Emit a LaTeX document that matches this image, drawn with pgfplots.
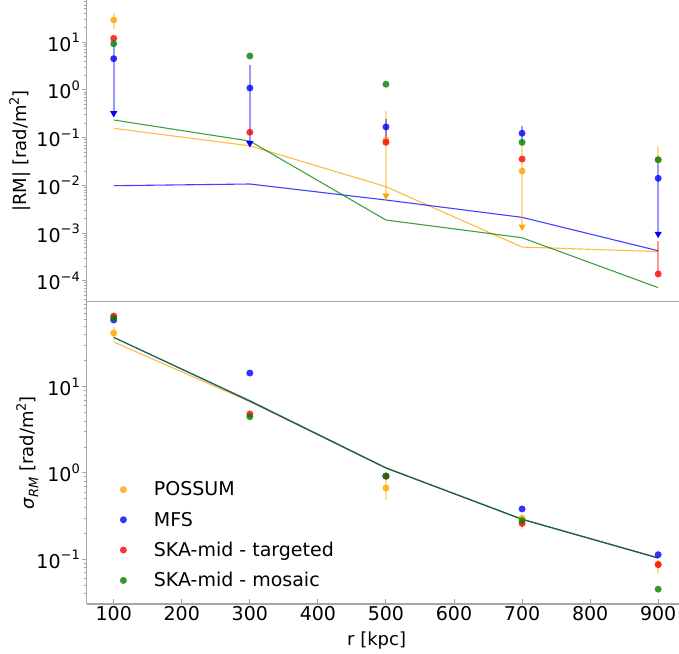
\documentclass[border=0pt]{standalone}
\usepackage{fontspec}
\setmainfont{DejaVu Sans}
\usepackage{pgfplots}
\pgfplotsset{compat=1.18}

\definecolor{cOrange}{HTML}{FFA500}
\definecolor{cBlue}{HTML}{0000FF}
\definecolor{cRed}{HTML}{FF0000}
\definecolor{cGreen}{HTML}{008000}
\definecolor{spine}{HTML}{A6A6A6}

\newcommand{\bigfont}{\fontsize{18}{21}\selectfont}
\newcommand{\tickfont}{\fontsize{19}{22}\selectfont}
\newcommand{\supfont}{\fontsize{13}{15}\selectfont}
\newcommand{\spt}[1]{\raisebox{0.45em}{\supfont #1}}

\pgfplotsset{
  panel/.style={
    scale only axis, width=592.1pt,
    xmin=60, xmax=930,
    axis x line*=bottom, axis y line*=left,
    axis line style={-, spine, line width=1.3pt},
    tick style={spine, line width=1pt},
    major tick length=5pt, minor tick length=3pt,
    ytick align=outside, xtick align=inside,
    tick label style={font=\tickfont},
    label style={font=\bigfont},
    yticklabel style={anchor=east, inner xsep=1.5pt},
  },
  pts/.style={#1, only marks, mark=*, mark size=3.5pt,
    mark options={draw opacity=0, fill=#1, fill opacity=0.8}},
  tri/.style={#1, only marks, mark=triangle*, mark size=4.2pt,
    mark options={rotate=180, draw opacity=0, fill=#1}, forget plot},
  ebar/.style={#1, draw opacity=0.4, line width=2pt, unbounded coords=jump, forget plot},
  fitline/.style={#1, draw opacity=0.75, line width=1.1pt, forget plot},
}

\begin{document}
\begin{tikzpicture}
\path[use as bounding box] (0pt,0pt) rectangle (679pt,653pt);

% upper panel: |RM|
\begin{axis}[ymode=log, log basis y=10, panel, at={(86.5pt,351.3pt)}, anchor=south west, height=301.7pt,
    ymin=3.65e-5, ymax=77, xtick=\empty,
    ytick={1e-4,1e-3,1e-2,1e-1,1,10},
    yticklabels={10\spt{−4},10\spt{−3},10\spt{−2},10\spt{−1},10\spt{0},10\spt{1}},
    minor ytick={4e-5,5e-5,6e-5,7e-5,8e-5,9e-5,
      2e-4,3e-4,4e-4,5e-4,6e-4,7e-4,8e-4,9e-4,
      2e-3,3e-3,4e-3,5e-3,6e-3,7e-3,8e-3,9e-3,
      2e-2,3e-2,4e-2,5e-2,6e-2,7e-2,8e-2,9e-2,
      0.2,0.3,0.4,0.5,0.6,0.7,0.8,0.9,2,3,4,5,6,7,8,9,20,30,40,50,60,70},
    ylabel={|RM| [rad/m\spt{2}]},
    ylabel style={at={(axis description cs:-0.112,0.5)}, anchor=center}]
\addplot[fitline=cOrange] coordinates {(100,0.157) (300,0.0676) (500,0.0094) (700,0.00051) (900,0.00041)};
\addplot[fitline=cBlue] coordinates {(100,0.00986) (300,0.0107) (500,0.00494) (700,0.00214) (900,0.000427)};
\addplot[fitline=cGreen] coordinates {(100,0.235) (300,0.085) (500,0.00188) (700,0.0008) (900,0.000072)};

\addplot[ebar=cOrange] coordinates {(100,40.6) (100,18.7) (200,nan) (500,0.368) (500,0.0061) (600,nan) (700,0.08) (700,0.00136) (800,nan) (900,0.067) (900,0.034)};
\addplot[ebar=cBlue] coordinates {(100,10.3) (100,0.325) (200,nan) (300,3.34) (300,0.0763) (400,nan) (500,0.251) (500,0.0895) (600,nan) (700,0.175) (700,0.08) (800,nan) (900,0.03) (900,0.00096)};
\addplot[ebar=cRed] coordinates {(900,0.00068) (900,0.000139)};

\addplot[tri=cBlue] coordinates {(100,0.325) (300,0.0763) (900,0.00096)};
\addplot[tri=cOrange] coordinates {(500,0.0061) (700,0.00136)};

\addplot[pts=cOrange, forget plot] coordinates {(100,29.3) (500,0.0895) (700,0.020) (900,0.034)};
\addplot[pts=cBlue, forget plot] coordinates {(100,4.53) (300,1.10) (500,0.168) (700,0.124) (900,0.0141)};
\addplot[pts=cRed, forget plot] coordinates {(100,12.1) (300,0.130) (500,0.080) (700,0.0357) (900,0.000139)};
\addplot[pts=cGreen, forget plot] coordinates {(100,9.35) (300,5.16) (500,1.32) (700,0.080) (900,0.0346)};
\end{axis}

% lower panel: sigma_RM
\begin{axis}[ymode=log, log basis y=10, panel, at={(86.5pt,49pt)}, anchor=south west, height=302.3pt,
    ymin=0.0303, ymax=96.6,
    ytick={0.1,1,10},
    yticklabels={10\spt{−1},10\spt{0},10\spt{1}},
    minor ytick={0.04,0.05,0.06,0.07,0.08,0.09,0.2,0.3,0.4,0.5,0.6,0.7,0.8,0.9,2,3,4,5,6,7,8,9,20,30,40,50,60,70,80,90},
    xtick={100,200,...,900},
    xticklabels={100,200,300,400,500,600,700,800,900},
    xticklabel style={inner ysep=2pt},
    xlabel={r [kpc]},
    xlabel style={at={(axis description cs:0.49,0)}, anchor=north, yshift=-24pt},
    ylabel={\textit{σ}\raisebox{-0.25em}{\supfont\itshape RM} [rad/m\spt{2}]},
    ylabel style={at={(axis description cs:-0.100,0.5)}, anchor=center},
    legend cell align=left,
    legend style={draw=none, fill=none, font=\tickfont, row sep=10.5pt,
      /tikz/every odd column/.append style={column sep=25pt},
      at={(axis description cs:0.051,0.418)}, anchor=north west}]
\addplot[fitline=cOrange] coordinates {(100,33.0) (300,6.7) (500,1.14) (700,0.29) (900,0.104)};
\addplot[fitline=cBlue] coordinates {(100,37.3) (300,6.8) (500,1.14) (700,0.29) (900,0.103)};
\addplot[fitline=cGreen] coordinates {(100,37.3) (300,6.9) (500,1.15) (700,0.292) (900,0.104)};

\addplot[ebar=cOrange] coordinates {(100,49.6) (100,34.7) (200,nan) (500,0.88) (500,0.49) (600,nan) (700,0.316) (700,0.224) (800,nan) (900,0.098) (900,0.0698)};

\addplot[pts=cOrange] coordinates {(100,41.9) (500,0.67) (700,0.298) (900,0.088)};
\addlegendentry{POSSUM}
\addplot[pts=cBlue] coordinates {(100,59.3) (300,14.4) (500,0.92) (700,0.383) (900,0.113)};
\addlegendentry{MFS}
\addplot[pts=cRed] coordinates {(100,65.9) (300,4.83) (500,0.92) (700,0.26) (900,0.0865)};
\addlegendentry{SKA-mid - targeted}
\addplot[pts=cGreen] coordinates {(100,62.5) (300,4.48) (500,0.92) (700,0.28) (900,0.045)};
\addlegendentry{SKA-mid - mosaic}
\end{axis}
\end{tikzpicture}
\end{document}
